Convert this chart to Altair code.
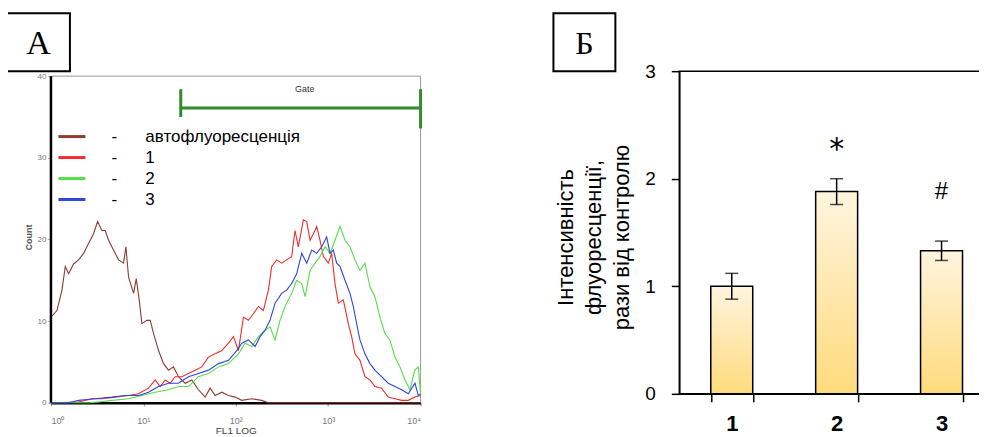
import altair as alt
import pandas as pd

# ---------------- Panel A: flow-cytometry histograms (x as log10 exponent of FL1) ----------------
series_names = ["автофлуоресценція", "1", "2", "3"]
series_colors = ["#8E3B33", "#EC2E2E", "#55DE48", "#3046DE"]

auto_exp = [0.0, 0.065, 0.119, 0.155, 0.191, 0.245, 0.299, 0.353, 0.407, 0.461, 0.505, 0.551, 0.587,
            0.623, 0.677, 0.732, 0.786, 0.811, 0.840, 0.894, 0.923, 0.955, 0.984, 1.038, 1.074, 1.110,
            1.164, 1.218, 1.272, 1.326, 1.380, 1.452, 1.524, 1.596, 1.668, 1.723, 1.777, 1.849, 1.921,
            1.993, 2.065, 2.173, 2.281, 2.353, 3.0, 4.0]
auto_cnt = [10.5, 11.3, 13.8, 16.7, 15.8, 17.0, 17.5, 18.3, 19.5, 20.7, 22.2, 21.1, 21.1,
            19.9, 18.7, 17.5, 17.1, 19.1, 15.4, 13.4, 15.2, 12.6, 9.7, 10.1, 10.1, 8.5,
            6.4, 4.8, 4.0, 4.4, 3.2, 2.4, 2.8, 1.6, 0.7, 1.8, 0.9, 1.3, 0.9,
            0.7, 0.3, 0.5, 0.3, 0.0, 0.0, 0.0]

red_exp = [0.0, 0.299, 0.443, 0.551, 0.695, 0.840, 0.948, 1.056, 1.128, 1.182, 1.236, 1.290, 1.344,
           1.416, 1.488, 1.560, 1.632, 1.705, 1.777, 1.849, 1.921, 1.975, 2.029, 2.083, 2.137, 2.191,
           2.245, 2.299, 2.353, 2.389, 2.443, 2.497, 2.551, 2.605, 2.641, 2.677, 2.732, 2.768, 2.804,
           2.840, 2.876, 2.912, 2.948, 3.002, 3.038, 3.074, 3.110, 3.164, 3.218, 3.254, 3.290, 3.344,
           3.398, 3.452, 3.506, 3.578, 3.650, 3.723, 3.795, 3.867, 3.939, 4.0]
red_cnt = [0.0, 0.1, 0.5, 0.5, 0.7, 0.9, 1.1, 1.8, 2.8, 2.0, 2.8, 2.4, 3.2,
           3.2, 3.6, 4.0, 4.4, 5.6, 6.0, 6.4, 7.3, 8.1, 6.4, 10.5, 10.1, 10.9,
           11.8, 11.3, 13.8, 16.7, 17.5, 17.1, 17.5, 17.9, 21.1, 19.1, 22.4, 22.2, 19.9,
           20.7, 21.6, 19.9, 17.9, 17.1, 18.3, 14.6, 12.2, 12.6, 9.7, 8.1, 6.0, 5.2,
           3.2, 2.8, 2.0, 1.8, 0.7, 0.5, 0.3, 0.3, 0.7, 0.9]

green_exp = [0.0, 0.407, 0.515, 0.659, 0.840, 0.984, 1.128, 1.272, 1.380, 1.488, 1.596, 1.705, 1.813,
             1.921, 2.029, 2.101, 2.173, 2.245, 2.317, 2.371, 2.425, 2.479, 2.533, 2.605, 2.659, 2.714,
             2.750, 2.804, 2.858, 2.912, 2.966, 3.020, 3.074, 3.128, 3.182, 3.236, 3.290, 3.344, 3.398,
             3.452, 3.506, 3.560, 3.614, 3.668, 3.723, 3.777, 3.831, 3.885, 3.939, 3.975, 4.0]
green_cnt = [0.0, 0.0, 0.1, 0.3, 0.5, 0.9, 1.3, 1.6, 2.0, 2.0, 3.2, 3.6, 4.4,
             4.8, 6.0, 7.3, 6.9, 8.1, 8.9, 9.3, 7.7, 10.1, 11.8, 13.4, 15.0, 14.6,
             13.0, 16.2, 17.1, 17.9, 19.1, 18.3, 19.9, 21.6, 19.9, 19.1, 17.5, 16.2, 17.1,
             14.2, 13.0, 10.5, 8.5, 7.7, 5.6, 4.4, 2.8, 1.6, 4.0, 4.4, 1.1]

blue_exp = [0.0, 0.191, 0.299, 0.479, 0.659, 0.804, 0.948, 1.056, 1.164, 1.272, 1.380, 1.488, 1.596,
            1.705, 1.813, 1.921, 2.011, 2.065, 2.137, 2.209, 2.263, 2.317, 2.371, 2.425, 2.497, 2.551,
            2.605, 2.659, 2.714, 2.768, 2.822, 2.876, 2.930, 2.984, 3.020, 3.056, 3.092, 3.128, 3.182,
            3.236, 3.272, 3.308, 3.344, 3.398, 3.452, 3.506, 3.578, 3.650, 3.723, 3.795, 3.867, 3.939,
            3.975, 4.0]
blue_cnt = [0.0, 0.0, 0.3, 0.5, 0.7, 0.9, 0.9, 1.3, 2.0, 2.4, 2.4, 3.2, 3.6,
            4.0, 4.8, 5.2, 6.4, 7.3, 7.7, 6.9, 8.1, 8.9, 10.1, 12.2, 13.4, 13.8,
            14.6, 15.8, 18.3, 17.1, 18.7, 18.3, 19.1, 20.3, 18.3, 18.7, 17.1, 16.7, 15.0,
            13.4, 11.8, 9.7, 7.7, 6.0, 4.8, 4.0, 3.2, 2.4, 2.0, 1.6, 1.1, 2.4,
            0.9, 1.1]

rows = []
for name, exps, cnts in zip(series_names, [auto_exp, red_exp, green_exp, blue_exp],
                            [auto_cnt, red_cnt, green_cnt, blue_cnt]):
    for i, (e, c) in enumerate(zip(exps, cnts)):
        rows.append({"series": name, "fl1": 10 ** e, "count": c, "idx": i})
hist = pd.DataFrame(rows)

x_ticks_a = [1, 10, 100, 1000, 10000]
y_ticks_a = [0, 10, 20, 30, 40]
gate_lo, gate_hi, gate_level = 25.4, 10000, 36.1

xs_a = alt.Scale(type="log", domain=[1, 10000], nice=False)
ys_a = alt.Scale(domain=[0, 40.61], nice=False, zero=True)

x_axis_a = alt.Axis(values=x_ticks_a, title="FL1 LOG", grid=False, domainColor="black", domainWidth=2.5,
                    tickColor="#888", tickSize=3, labelColor="#777", labelFontSize=9,
                    labelFont="Liberation Sans", labelPadding=11, titleFontSize=10, titleFont="Liberation Sans",
                    titleFontWeight="normal", titleColor="#444", titlePadding=0,
                    labelExpr="'10' + ['\u2070','\u00b9','\u00b2','\u00b3','\u2074'][round(log(datum.value)/LN10)]")
y_axis_a = alt.Axis(values=y_ticks_a, title="Count", grid=False, domain=False, tickColor="#888", tickSize=3,
                    labelColor="#777", labelFontSize=8, labelFont="Liberation Sans", labelPadding=2,
                    titleFontSize=9, titleFont="Liberation Sans", titleColor="#555", titleFontWeight="bold",
                    titlePadding=4)

one = pd.DataFrame({"k": [0]})

lines = alt.Chart(hist).mark_line(strokeWidth=1.1, interpolate="linear").encode(
    x=alt.X("fl1:Q", scale=xs_a, axis=x_axis_a),
    y=alt.Y("count:Q", scale=ys_a, axis=y_axis_a),
    color=alt.Color("series:N", scale=alt.Scale(domain=series_names, range=series_colors),
                    legend=alt.Legend(orient="none", legendX=9.5, legendY=54, title=None,
                                      symbolType="M-1.35,0H1.35", symbolSize=400, symbolStrokeWidth=3,
                                      labelFontSize=17, labelFont="Liberation Sans", labelColor="black",
                                      labelOffset=28, rowPadding=1, padding=0, labelLimit=400,
                                      labelExpr="'-\u00a0\u00a0\u00a0\u00a0\u00a0\u00a0' + datum.label")),
    detail="series:N",
    order="idx:Q",
)

frame_top = alt.Chart(one).mark_rule(color="#9a9a9a", strokeWidth=1).encode(
    x=alt.datum(1), x2=alt.datum(10000), y=alt.datum(40))
frame_right = alt.Chart(one).mark_rule(color="#9a9a9a", strokeWidth=1).encode(
    x=alt.datum(10000), y=alt.datum(0), y2=alt.datum(40))
frame_left = alt.Chart(one).mark_rule(color="black", strokeWidth=2.5).encode(
    x=alt.datum(1), y=alt.datum(0), y2=alt.datum(40))

gate_h = alt.Chart(one).mark_rule(color="#2E8B2E", strokeWidth=3).encode(
    x=alt.datum(gate_lo), x2=alt.datum(gate_hi), y=alt.datum(gate_level))
gate_l = alt.Chart(one).mark_rule(color="#2E8B2E", strokeWidth=3).encode(
    x=alt.datum(gate_lo), y=alt.datum(35.0), y2=alt.datum(38.4))
gate_r = alt.Chart(one).mark_rule(color="#2E8B2E", strokeWidth=3).encode(
    x=alt.datum(gate_hi), y=alt.datum(33.6), y2=alt.datum(38.4))
gate_t = alt.Chart(one).mark_text(text="Gate", fontSize=9, font="Liberation Sans", color="#333",
                                  baseline="middle").encode(x=alt.datum(557), y=alt.datum(38.4))

box_a = alt.Chart(one).mark_rect(fill="white", stroke="black", strokeWidth=2).encode(
    x=alt.value(-44), x2=alt.value(19), y=alt.value(-58), y2=alt.value(0))
box_a_t = alt.Chart(one).mark_text(text="A", fontSize=34, font="Liberation Serif", color="black",
                                   baseline="middle", align="center").encode(x=alt.value(-12.5), y=alt.value(-27))

panel_a = alt.layer(frame_top, frame_right, lines, frame_left, gate_h, gate_l, gate_r, gate_t,
                    box_a, box_a_t).properties(
    width=370, height=332, view=alt.ViewBackground(stroke="transparent"))

# ---------------- Panel Б: bar chart ----------------
groups = ["1", "2", "3"]
means = [1.0, 1.88, 1.33]
errors = [0.12, 0.12, 0.09]
star_group, star_y = "2", 2.18
hash_group, hash_y = "3", 1.81

bars_df = pd.DataFrame({"group": groups, "mean": means, "err": errors})
bars_df["lo"] = bars_df["mean"] - bars_df["err"]
bars_df["hi"] = bars_df["mean"] + bars_df["err"]
star_df = pd.DataFrame({"group": [star_group], "y": [star_y], "sign": ["*"]})
hash_df = pd.DataFrame({"group": [hash_group], "y": [hash_y], "sign": ["#"]})

xs_b = alt.Scale(domain=groups, paddingInner=0.6, paddingOuter=0.3)
ys_b = alt.Scale(domain=[0, 3], nice=False)

x_axis_b = alt.Axis(title=None, tickBand="extent", labelAngle=0, labelFontSize=22, labelFontWeight="bold",
                    labelFont="Liberation Sans", labelColor="black", labelPadding=12, tickSize=8,
                    tickColor="black", tickWidth=1.5, domainColor="black", domainWidth=1.5, grid=False)
y_axis_b = alt.Axis(values=[0, 1, 2, 3], format="d", title=["Інтенсивність", "флуоресценції,", "рази від контролю"],
                    grid=False, tickSize=8, tickColor="black", tickWidth=1.5, domainColor="black",
                    domainWidth=1.5, labelFontSize=19, labelFont="Liberation Sans", labelColor="black",
                    labelPadding=16, titleFontSize=22, titleFont="Liberation Sans", titleFontWeight="normal",
                    titleColor="black", titleLineHeight=28, titlePadding=11, titleY=166)

grad = alt.Gradient(gradient="linear", x1=0, x2=0, y1=0, y2=1,
                    stops=[alt.GradientStop(offset=0, color="#FFF4DE"),
                           alt.GradientStop(offset=1, color="#FFDB7C")])

bars = alt.Chart(bars_df).mark_bar(fill=grad, stroke="black", strokeWidth=1.5).encode(
    x=alt.X("group:N", scale=xs_b, axis=x_axis_b),
    y=alt.Y("mean:Q", scale=ys_b, axis=y_axis_b),
)
err_rule = alt.Chart(bars_df).mark_rule(color="black", strokeWidth=1.5).encode(
    x="group:N", y="lo:Q", y2="hi:Q")
cap_lo = alt.Chart(bars_df).mark_tick(color="black", thickness=1.5, size=13).encode(x="group:N", y="lo:Q")
cap_hi = alt.Chart(bars_df).mark_tick(color="black", thickness=1.5, size=13).encode(x="group:N", y="hi:Q")
star_t = alt.Chart(star_df).mark_text(fontSize=30, font="DejaVu Sans", color="black",
                                      baseline="alphabetic").encode(x="group:N", y="y:Q", text="sign:N")
hash_t = alt.Chart(hash_df).mark_text(fontSize=24, font="Liberation Sans", color="black",
                                      baseline="alphabetic").encode(x="group:N", y="y:Q", text="sign:N")

box_b = alt.Chart(one).mark_rect(fill="white", stroke="black", strokeWidth=2).encode(
    x=alt.value(-126), x2=alt.value(-64), y=alt.value(-58), y2=alt.value(0))
box_b_t = alt.Chart(one).mark_text(text="Б", fontSize=32, font="Liberation Serif", color="black",
                                   baseline="middle", align="center").encode(x=alt.value(-95), y=alt.value(-27))

panel_b = alt.layer(bars, err_rule, cap_lo, cap_hi, star_t, hash_t, box_b, box_b_t).properties(
    width=315, height=323, view=alt.ViewBackground(stroke="black", strokeWidth=1.5))

chart = alt.hconcat(panel_a, panel_b, spacing=259, bounds="flush",
                    padding={"left": -3, "top": 3, "right": -16, "bottom": 0}).configure(background="white")

chart.save("out.html", embed_options={"renderer": "svg", "actions": False})
